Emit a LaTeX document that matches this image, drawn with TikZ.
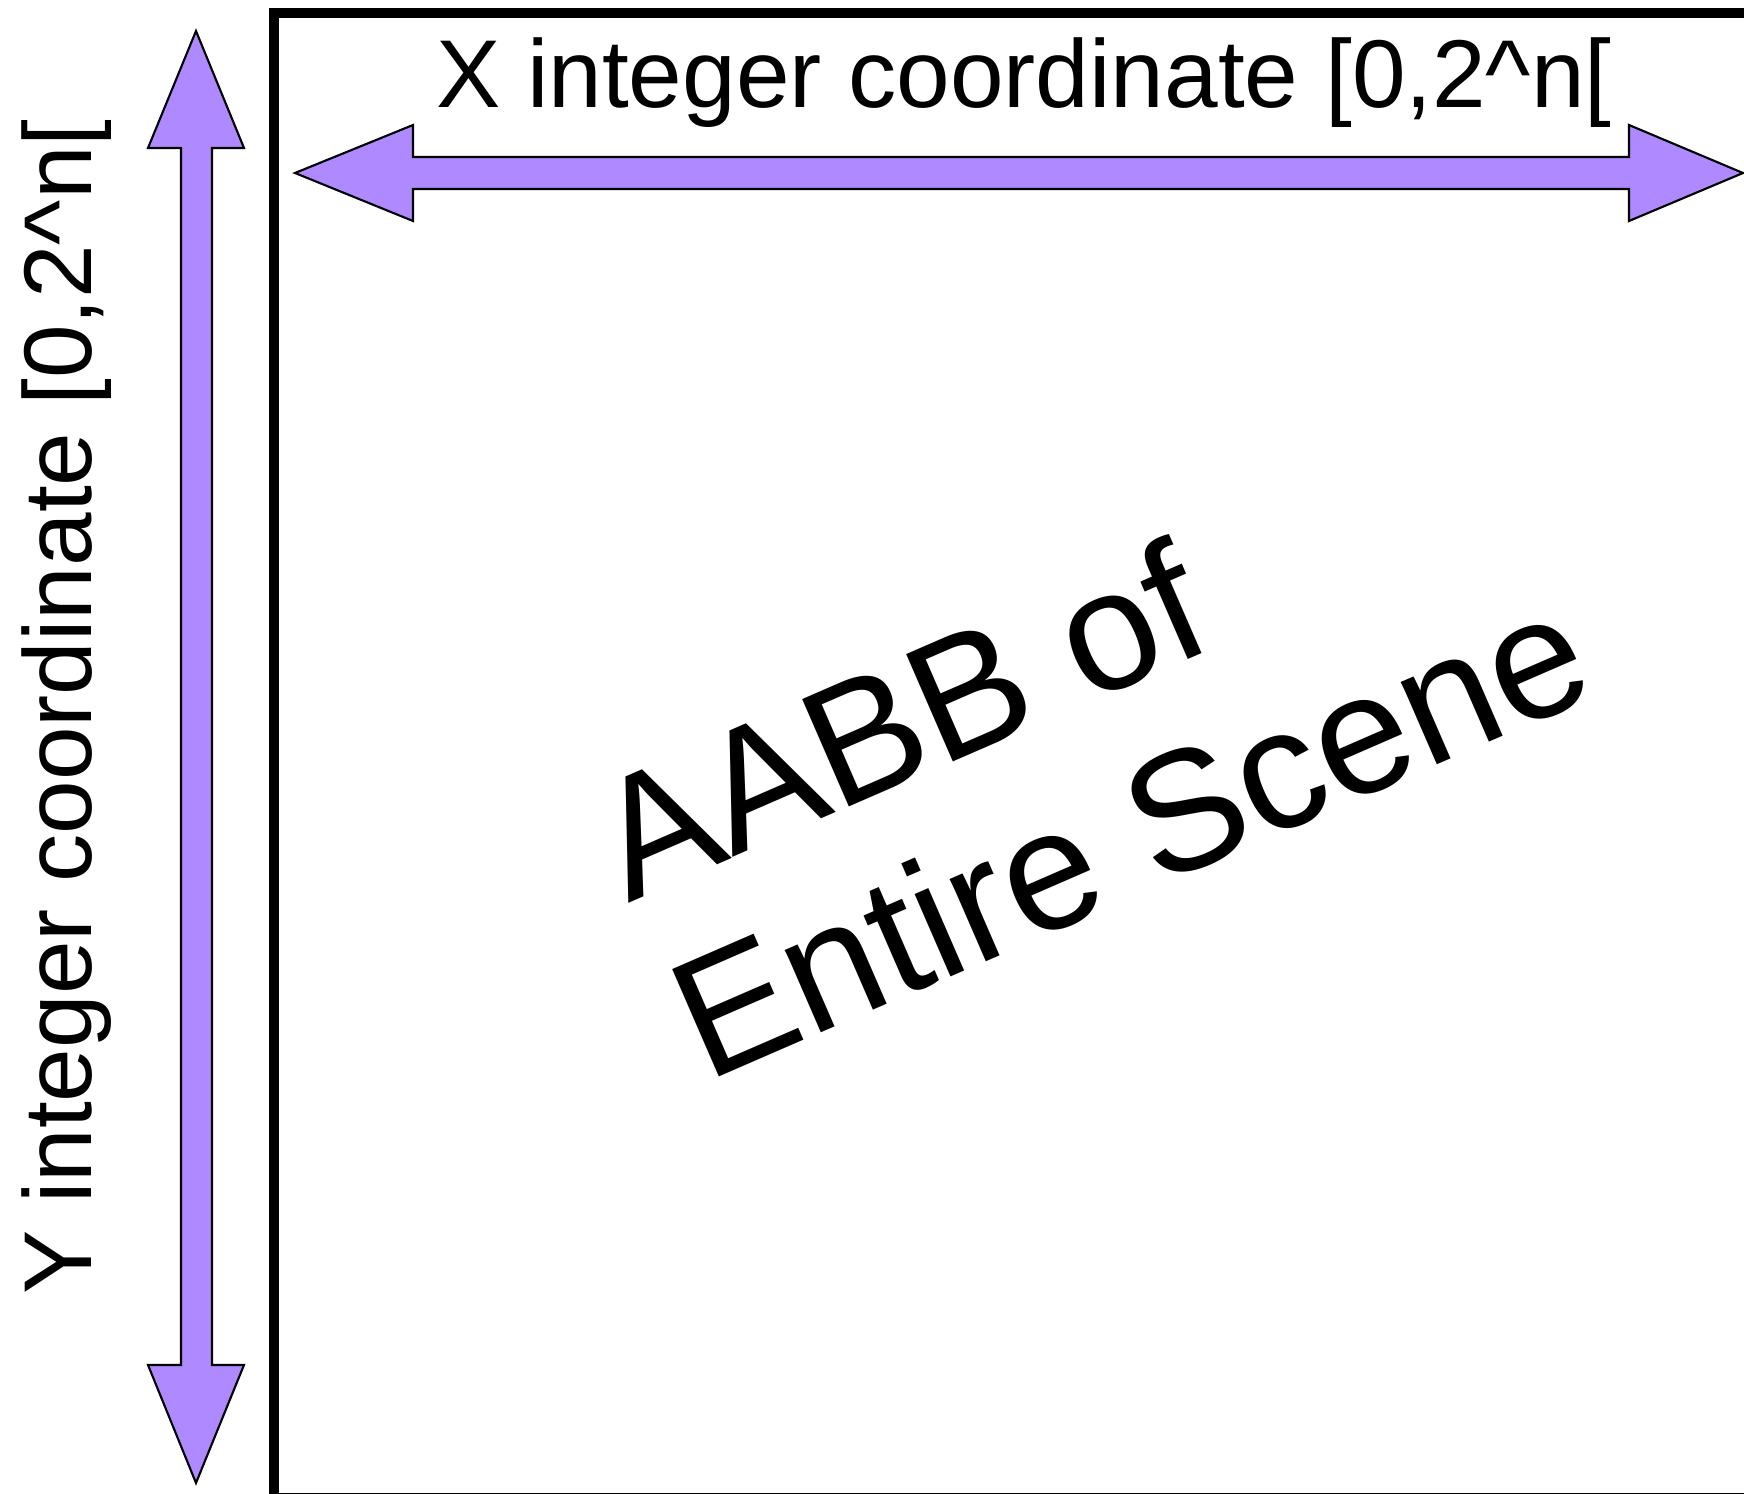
\documentclass[tikz,border=0pt]{standalone}
\usepackage{fontspec}
\setmainfont{Liberation Sans}
\definecolor{axispurple}{RGB}{175,137,255}

\begin{document}
\begin{tikzpicture}[
        x = 0.01cm, y = -0.01cm,
        every node/.style = {inner sep = 0pt},
        blockarrow/.style = {draw = black, line width = 0.6pt, fill = axispurple, line join = miter},
        frame/.style = {draw = black, line width = 2.85pt},
        axislabel/.style = {font = \fontsize{27.4}{31.5}\selectfont, anchor = base},
        scenelabel/.style = {font = \fontsize{48.4}{55.8}\selectfont, align = left, rotate = 23.5}
    ]

    \useasboundingbox (0,0) rectangle (1744,1494);

    % bounding box of the scene, cut by the page
    \draw[frame] (274,13) rectangle (1770,1498);

    % X axis arrow
    \draw[blockarrow] (295,173) -- (413,125) -- (413,157) -- (1629,157) -- (1629,125)
        -- (1743,173) -- (1629,221) -- (1629,189) -- (413,189) -- (413,221) -- cycle;

    % Y axis arrow
    \draw[blockarrow] (196,31) -- (244,148) -- (212,148) -- (212,1365) -- (244,1365)
        -- (196,1483) -- (148,1365) -- (181,1365) -- (181,148) -- (148,148) -- cycle;

    \node[axislabel] (xlabel) at (1024,108) {X integer coordinate [0,2\^{}n[};
    \node[axislabel, rotate = 90] (ylabel) at (91,707) {Y integer coordinate [0,2\^{}n[};

    \node[scenelabel] (scene) at (1090,743) {AABB of\\Entire Scene};
\end{tikzpicture}
\end{document}
